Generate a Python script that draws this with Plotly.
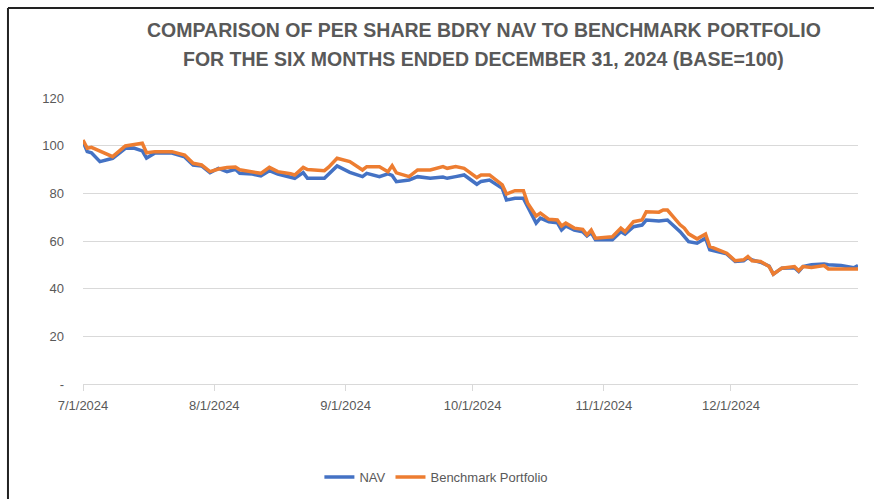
import plotly.graph_objects as go

dates = [
    "2024-07-01", "2024-07-02", "2024-07-03", "2024-07-05", "2024-07-08", "2024-07-11",
    "2024-07-13", "2024-07-15", "2024-07-16", "2024-07-18", "2024-07-22", "2024-07-25",
    "2024-07-27", "2024-07-29", "2024-07-31", "2024-08-02", "2024-08-04", "2024-08-06",
    "2024-08-07", "2024-08-10", "2024-08-12", "2024-08-14", "2024-08-16", "2024-08-19",
    "2024-08-20", "2024-08-22", "2024-08-23", "2024-08-27", "2024-08-28", "2024-08-30",
    "2024-09-02", "2024-09-05", "2024-09-06", "2024-09-09", "2024-09-11", "2024-09-12",
    "2024-09-13", "2024-09-16", "2024-09-18", "2024-09-21", "2024-09-24", "2024-09-25",
    "2024-09-27", "2024-09-29", "2024-10-02", "2024-10-03", "2024-10-05", "2024-10-08",
    "2024-10-09", "2024-10-11", "2024-10-13", "2024-10-14", "2024-10-16", "2024-10-17",
    "2024-10-19", "2024-10-21", "2024-10-22", "2024-10-23", "2024-10-25", "2024-10-27",
    "2024-10-28", "2024-10-29", "2024-10-30", "2024-11-03", "2024-11-05", "2024-11-06",
    "2024-11-08", "2024-11-10", "2024-11-11", "2024-11-14", "2024-11-15", "2024-11-16",
    "2024-11-19", "2024-11-20", "2024-11-21", "2024-11-23", "2024-11-25", "2024-11-26",
    "2024-11-28", "2024-11-30", "2024-12-02", "2024-12-04", "2024-12-05", "2024-12-06",
    "2024-12-08", "2024-12-10", "2024-12-11", "2024-12-13", "2024-12-16", "2024-12-17",
    "2024-12-18", "2024-12-20", "2024-12-23", "2024-12-24", "2024-12-27", "2024-12-29",
    "2024-12-30", "2024-12-31",
]

nav = [
    101.7, 97.5, 97.0, 93.3, 94.7, 98.9,
    99.0, 97.8, 94.8, 96.9, 96.9, 95.3,
    91.9, 91.5, 88.7, 90.5, 89.1, 90.1,
    88.4, 88.1, 87.3, 89.5, 88.1, 87.0,
    86.3, 88.7, 86.3, 86.3, 88.1, 91.5,
    88.8, 87.0, 88.4, 87.0, 88.2, 87.5,
    84.9, 85.6, 87.0, 86.3, 86.8, 86.3,
    87.0, 87.7, 83.8, 85.0, 85.6, 82.1,
    77.2, 77.9, 77.9, 74.4, 67.5, 69.6,
    68.1, 67.7, 64.6, 66.3, 64.6, 63.9,
    62.1, 63.5, 60.5, 60.5, 63.9, 62.9,
    66.0, 66.7, 68.8, 68.4, 68.6, 68.8,
    63.9, 62.0, 59.7, 59.1, 61.2, 56.3,
    55.5, 54.6, 51.4, 51.7, 53.0, 52.0,
    51.1, 49.5, 46.1, 48.6, 48.8, 47.2,
    49.3, 50.0, 50.3, 50.0, 49.7, 49.3,
    48.8, 49.7,
]

benchmark = [
    102.4, 98.9, 99.3, 97.6, 95.4, 99.9,
    100.5, 101.0, 97.0, 97.5, 97.5, 96.1,
    92.6, 91.9, 89.1, 90.2, 90.8, 91.0,
    89.9, 89.1, 88.4, 90.9, 89.1, 88.2,
    87.7, 90.9, 90.0, 89.5, 91.0, 94.7,
    93.3, 89.8, 91.2, 91.2, 89.1, 91.6,
    88.6, 87.0, 89.8, 89.8, 91.2, 90.5,
    91.2, 90.5, 86.6, 87.7, 87.7, 83.5,
    79.7, 81.1, 81.1, 75.8, 70.5, 71.7,
    69.1, 68.8, 66.3, 67.5, 65.4, 64.9,
    62.6, 64.6, 61.2, 61.8, 65.4, 63.9,
    68.1, 68.8, 72.3, 72.1, 73.0, 73.0,
    66.8, 65.4, 63.0, 60.9, 62.9, 57.7,
    56.3, 54.9, 51.7, 52.1, 53.5, 51.7,
    51.4, 49.3, 46.1, 48.6, 49.3, 47.5,
    49.3, 48.9, 49.7, 48.3, 48.3, 48.3,
    48.3, 48.3,
]

y_tickvals = [0, 20, 40, 60, 80, 100, 120]
y_ticktext = ["-", "20", "40", "60", "80", "100", "120"]

title_lines = [
    "COMPARISON OF PER SHARE BDRY NAV TO BENCHMARK PORTFOLIO",
    "FOR THE SIX MONTHS ENDED DECEMBER 31, 2024 (BASE=100)",
]

FONT = "Liberation Sans, Arial, sans-serif"
GREY = "#595959"

fig = go.Figure()
fig.add_trace(go.Scatter(x=dates, y=nav, name="NAV", mode="lines",
                         line=dict(color="#4472C4", width=3.5)))
fig.add_trace(go.Scatter(x=dates, y=benchmark, name="Benchmark Portfolio", mode="lines",
                         line=dict(color="#ED7D31", width=3.5)))

annotations = [
    dict(text="<b>" + title_lines[0] + "</b>", xref="paper", yref="paper",
         x=0.5174, y=1.2378, xanchor="center", yanchor="middle", showarrow=False,
         font=dict(family=FONT, size=19.5, color=GREY)),
    dict(text="<b>" + title_lines[1] + "</b>", xref="paper", yref="paper",
         x=0.5174, y=1.1364, xanchor="center", yanchor="middle", showarrow=False,
         font=dict(family=FONT, size=19.5, color=GREY)),
]

fig.update_layout(
    width=874, height=499,
    margin=dict(l=83, r=16, t=98, b=115, autoexpand=False),
    paper_bgcolor="white", plot_bgcolor="white",
    font=dict(family=FONT, color=GREY, size=13),
    annotations=annotations,
    showlegend=True,
    legend=dict(orientation="h", x=0.456, xanchor="center", y=-0.325, yanchor="middle",
                font=dict(family=FONT, size=13, color=GREY), itemwidth=30),
    xaxis=dict(type="date", range=["2024-07-01", "2024-12-31"],
               tick0="2024-07-01", dtick="M1", tickformat="%-m/%-d/%Y",
               showgrid=False, showline=True, linecolor="#D9D9D9", linewidth=1,
               ticks="outside", ticklen=6, tickcolor="#D9D9D9", ticklabelstandoff=3,
               automargin=False,
               tickfont=dict(family=FONT, size=13, color=GREY)),
    yaxis=dict(range=[0, 120], tickvals=y_tickvals, ticktext=y_ticktext,
               showgrid=True, gridcolor="#D9D9D9", gridwidth=1, zeroline=False,
               showline=False, ticks="", ticklabelstandoff=18, automargin=False,
               tickfont=dict(family=FONT, size=13, color=GREY)),
    shapes=[
        dict(type="line", xref="paper", yref="paper", x0=-0.0968, x1=-0.0968, y0=-0.41, y1=1.3147,
             line=dict(color="#222222", width=2)),
        dict(type="line", xref="paper", yref="paper", x0=-0.0968, x1=1.03, y0=1.3147, y1=1.3147,
             line=dict(color="#222222", width=2)),
    ],
)

fig.write_html("out.html", config={"displayModeBar": False},
               post_script="document.body.style.margin='0';")
